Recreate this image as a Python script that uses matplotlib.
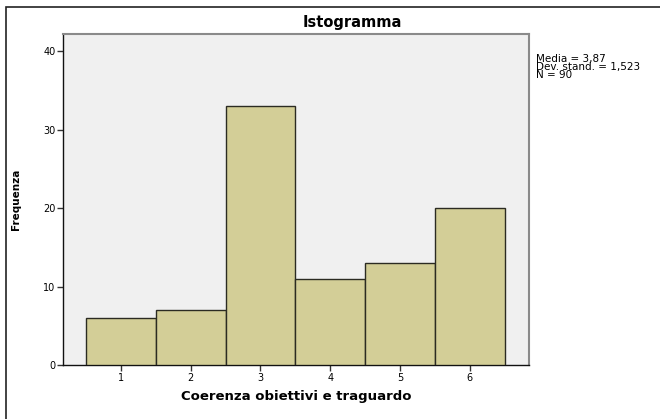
import numpy as np
import matplotlib
matplotlib.use("Agg")
import matplotlib.pyplot as plt
from matplotlib.patches import Rectangle

# ── Data ──────────────────────────────────────────────────────────────────────
categories = [1, 2, 3, 4, 5, 6]
counts = [6, 7, 33, 11, 13, 20]
y_ticks = [0, 10, 20, 30, 40]
stats_lines = ["Media = 3,87", "Dev. stand. = 1,523", "N = 90"]

plt.rcParams["font.family"] = ["DejaVu Sans"]

W, H = 660, 419
fig = plt.figure(figsize=(W / 100, H / 100), dpi=100)
fig.patch.set_facecolor("white")

# outer frame (only top/left visible in the cropped original)
fig.patches.append(Rectangle((6 / W, -0.1), 1.2, 1 - 7 / H + 0.1,
                             transform=fig.transFigure, fill=False,
                             edgecolor="#222222", linewidth=1.2))

left, right, top, bottom = 63, 529, 34, 365
ax = fig.add_axes([left / W, 1 - bottom / H, (right - left) / W, (bottom - top) / H])
ax.set_facecolor("#f0f0f0")

ax.bar(categories, counts, width=1.0, color="#d3ce97",
       edgecolor="#2b2b22", linewidth=1.0, zorder=3)

ax.set_xlim(0.17, 6.85)
ax.set_ylim(0, 42.2)
ax.set_xticks(categories)
ax.set_yticks(y_ticks)
ax.tick_params(labelsize=7, length=4, width=1, color="#333333", pad=1.5)

for side in ("top", "right"):
    ax.spines[side].set_color("#8a8a8a")
    ax.spines[side].set_linewidth(1.5)
for side in ("left", "bottom"):
    ax.spines[side].set_color("#111111")
    ax.spines[side].set_linewidth(1.0)

ax.set_xlabel("Coerenza obiettivi e traguardo", fontsize=9.5,
              fontweight="bold", labelpad=5)
ax.set_ylabel("Frequenza", fontsize=7.5, fontweight="bold", labelpad=16)

fig.text(352 / W, 1 - 23 / H, "Istogramma", fontsize=10.5, fontweight="bold",
         ha="center", va="center")

fig.text(536 / W, 1 - 54 / H, "\n".join(stats_lines), fontsize=7.5,
         ha="left", va="top", linespacing=0.72)

fig.savefig("out.png", dpi=100)
